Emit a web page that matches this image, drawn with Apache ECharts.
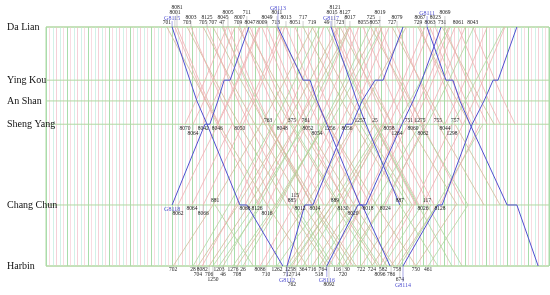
<!DOCTYPE html>
<html>
<head>
<meta charset="utf-8">
<script src="https://cdn.jsdelivr.net/npm/echarts@6/dist/echarts.min.js"></script>
<style>
html, body { margin: 0; padding: 0; background: #fff; }
#chart { width: 550px; height: 295px; }
</style>
</head>
<body>
<div id="chart"></div>
<script>
// stations from top to bottom, distance from Da Lian in km
const stations = ['Da Lian', 'Ying Kou', 'An Shan', 'Sheng Yang', 'Chang Chun', 'Harbin'];
const stationKm = [0, 210, 292, 384, 703, 944];

// times are minutes of the day, one entry per station (null = not served),
// [arrive, depart] where the train stands at a station
const gTrainNo = ['G8115', 'G8118', 'G8113', 'G8117', 'G8112', 'G8116', 'G8114', 'G8111'];
const gTrainTimes = [
    [361, 412, 432, 461, [555, 575], 678],
    [581, [510, 527], 492, [455, 469], 361, null],
    [664, [736, 756], 776, 804, [899, 905], 985],
    [816, 870, 890, 916, 1013, null],
    [1022, [942, 965], 905, [859, 876], [741, 764], 690],
    [1131, 1076, 1051, 1019, [893, 916], 804],
    [1348, [1280, 1294], 1254, 1220, [1122, 1134], 1022],
    [1091, [1145, 1165], 1185, 1214, [1320, 1348], 1409]
];

// trains starting at Da Lian
const dalianNo = ['701', '703', '705', '707', '709', '711', '713', '717', '719', '723', '725', '727', '729', '731',
    '47', '49', '8001', '8081', '8003', '8125', '8045', '8005', '8007', '8047', '8009', '8049', '8011', '8013',
    '8051', '8015', '8121', '8127', '8017', '8055', '8057', '8019', '8079', '8067', '8063', '8023', '8069', '8061', '8043'];
const dalianTimes = [
    [346, 427, 458, 495, 633, 747], [404, 484, 515, 553, 690, 804], [450, 530, 561, 598, 736, 850],
    [478, 558, 590, 627, 764, 879], [550, 630, 661, 699, 836, 950], [575, 656, 687, 724, 862, 976],
    [658, 739, 770, 807, 945, 1059], [736, 816, 847, 885, 1022, null], [762, 842, 873, 910, 1048, null],
    [842, 922, 953, 991, null, null], [930, 1011, 1042, 1079, null, null], [991, 1071, 1102, 1139, null, null],
    [1065, 1145, 1177, 1214, null, null], [1134, 1214, 1245, 1283, null, null],
    [504, 575, 604, 638, 762, 865], [804, 876, 905, 939, 1062, null],
    [369, 432, 458, 490, 610, null], [375, 438, 464, 495, null, null], [415, 478, 504, 535, 656, null],
    [461, 524, 550, 581, 701, null], [507, 570, 596, 627, null, null], [521, 584, 610, 641, 762, null],
    [555, 618, 644, 676, 796, null], [584, 647, 673, 704, null, null], [618, 681, 707, 739, 859, null],
    [633, 696, 721, 753, null, null], [661, 724, 750, 782, 902, null], [687, 750, 776, 807, 928, null],
    [713, 776, 802, 833, null, null], [819, 882, 908, 939, 1059, null], [827, 890, 916, 948, 1068, null],
    [856, 919, 945, 976, 1097, null], [870, 933, 959, 991, 1111, null], [908, 971, 996, 1028, null, null],
    [942, 1005, 1031, 1062, null, null], [956, 1019, 1045, 1076, 1197, null], [1005, 1068, 1094, 1125, null, null],
    [1071, 1134, 1159, 1191, null, null], [1099, 1162, 1188, 1220, null, null], [1114, 1177, 1202, 1234, null, null],
    [1142, 1205, 1231, 1263, null, null], [1180, 1243, 1268, 1300, null, null], [1222, 1285, 1311, 1343, null, null]
];

// trains starting at Harbin
const harbinNo = ['702', '704', '706', '708', '710', '712', '714', '716', '720', '722', '724', '28', '46', '26', '30',
    '1250', '1203', '1276', '1262', '1258', '8082', '8086', '8092', '8096', '762', '364', '518', '764', '116',
    '582', '786', '758', '674', '750', '461'];
const harbinTimes = [
    [764, 684, 653, 616, 478, 364], [836, 756, 724, 687, 550, 435], [867, 787, 756, 719, 581, 467],
    [948, 867, 836, 799, 661, 547], [1031, 950, 919, 882, 744, 630], [null, null, null, 942, 804, 690],
    [null, null, null, 968, 830, 716], [null, null, null, null, 876, 762], [null, null, null, null, 965, 850],
    [null, null, null, null, 1016, 902], [null, null, null, null, 1048, 933],
    [784, 713, 684, 650, 524, 421], [870, 799, 770, 736, 610, 507], [928, 856, 827, 793, 667, 564],
    [1225, 1154, 1125, 1091, 965, 862],
    [null, null, null, 742, 598, 478], [null, null, null, null, 618, 495], [null, null, null, 799, 656, 535],
    [null, null, null, null, 784, 661], [null, null, null, 962, 819, 699],
    [null, null, null, 653, 544, 447], [null, null, null, 819, 710, 613], [null, null, null, 1016, 908, 810],
    [null, null, null, 1162, 1054, 956], [null, null, null, null, 819, 704], [null, null, null, 973, 842, 736],
    [null, null, null, null, 893, 782], [null, null, null, null, 908, 793], [null, null, null, 1071, 939, 833],
    [null, null, null, null, 1076, 965], [null, null, null, null, 1102, 988], [null, null, null, null, 1119, 1005],
    [null, null, null, 1251, 1119, 1013], [null, null, null, null, 1174, 1059], [null, null, null, null, 1208, 1094]
];

// trains starting at Sheng Yang
const shenyangNo = ['763', '375', '761', '1257', '25', '751', '1275', '755', '757',
    '8070', '8064', '8042', '8046', '8050', '8048', '8052', '8054', '8056', '8058', '8060', '8062', '8044',
    '1256', '1264', '1298'];
const shenyangTimes = [
    [null, null, null, 636, 773, 888], [null, null, null, 704, 842, 956], [null, null, null, 744, 882, 996],
    [null, null, null, 899, 1036, null], [null, null, null, 942, 1065, 1162], [null, null, null, 1039, 1177, null],
    [null, null, null, 1071, 1208, null], [null, null, null, 1122, 1254, null], [null, null, null, 1171, 1300, null],
    [518, 455, 429, 398, null, null], [541, 478, 452, 421, null, null], [570, 507, 481, 450, null, null],
    [610, 547, 521, 490, null, null], [676, 613, 587, 555, null, null], [796, 733, 707, 676, null, null],
    [870, 807, 782, 750, null, null], [896, 833, 807, 776, null, null], [982, 919, 893, 862, null, null],
    [1102, 1039, 1013, 982, null, null], [1171, 1108, 1082, 1051, null, null], [1200, 1137, 1111, 1079, null, null],
    [1263, 1200, 1174, 1142, null, null],
    [962, 882, 850, 813, null, null], [1154, 1074, 1042, 1005, null, null], [1311, 1231, 1200, 1162, null, null]
];

// trains starting at Chang Chun
const changchunNo = ['881', '885', '115', '889', '887', '117',
    '8062', '8064', '8066', '8068', '8126', '8016', '8012', '8014', '8130', '8020', '8018', '8024', '8026', '8128'];
const changchunTimes = [
    [null, null, null, null, 484, 593], [null, null, null, null, 704, 813], [null, null, null, null, 713, 822],
    [null, null, null, null, 827, 936], [null, null, null, null, 1013, 1122], [null, null, null, null, 1091, 1191],
    [613, 550, 524, 492, 378, null], [null, null, null, 533, 418, null], [684, 621, 596, 564, 450, null],
    [null, null, null, 684, 570, null], [839, 776, 750, 719, 604, null], [null, null, null, 747, 633, null],
    [962, 899, 873, 842, 727, null], [null, null, null, 885, 770, null], [1085, 1022, 996, 965, 850, null],
    [null, null, null, 993, 879, null], [1157, 1094, 1068, 1036, 922, null], [null, null, null, 1085, 971, null],
    [1314, 1251, 1225, 1194, 1079, null], [null, null, null, 1243, 1128, null]
];

const gridColors = ['#a9dcab', '#f8dce2', '#d2f2e8', '#f5d0d8', '#d2f2e8', '#f8dce2'];
const BLUE = '#5050d0';

function trainColor(no) {
    if (no[0] === 'G') return BLUE;
    if (no.length === 4 && no[0] === '8') return '#eeb0b0';
    if (no.length === 3 && no[0] === '7') return '#cfbb98';
    return '#b0d49c';
}

function first(t) { return Array.isArray(t) ? t[0] : t; }

// build one train: polyline points and its starting station
function buildTrain(no, times) {
    const served = [];
    times.forEach((t, i) => { if (t != null) served.push({ t, i }); });
    const up = first(served[served.length - 1].t) < first(served[0].t);
    const pts = [];
    served.forEach(({ t, i }) => {
        const list = Array.isArray(t) ? (up ? [t[1], t[0]] : t) : [t];
        list.forEach(v => pts.push([v, stationKm[i]]));
    });
    const o = up ? served[served.length - 1] : served[0];
    return { no, up, pts, start: { t: Array.isArray(o.t) ? o.t[1] : o.t, s: o.i } };
}

const trains = [];
[[dalianNo, dalianTimes], [harbinNo, harbinTimes], [shenyangNo, shenyangTimes],
 [changchunNo, changchunTimes], [gTrainNo, gTrainTimes]].forEach(([nos, tms]) => {
    nos.forEach((no, k) => trains.push(buildTrain(no, tms[k])));
});

const chart = echarts.init(document.getElementById('chart'));

const trainSeries = trains.map(tr => ({
    type: 'line',
    name: tr.no,
    data: tr.pts,
    symbol: 'none',
    silent: true,
    animation: false,
    z: tr.no[0] === 'G' ? 5 : 3,
    lineStyle: { color: trainColor(tr.no), width: tr.no[0] === 'G' ? 1 : 0.8 }
}));

const stationSeries = {
    type: 'custom',
    silent: true,
    animation: false,
    z: 2,
    clip: false,
    data: stationKm.map(km => [0, km]),
    renderItem: (params, api) => {
        const km = api.value(1);
        const a = api.coord([0, km]);
        const b = api.coord([1440, km]);
        return {
            type: 'group',
            children: [
                { type: 'line', shape: { x1: a[0], y1: a[1], x2: b[0], y2: b[1] },
                  style: { stroke: '#b2d8a2', lineWidth: 1 } },
                { type: 'text', x: a[0] - 39, y: a[1],
                  style: { text: stations[params.dataIndex], fill: '#111',
                           font: '10px "Liberation Serif", "Times New Roman", serif',
                           align: 'left', verticalAlign: 'middle',
                           textAlign: 'left', textVerticalAlign: 'middle' } }
            ]
        };
    }
};

chart.setOption({
    backgroundColor: '#fff',
    animation: false,
    grid: { left: 46, right: 1, top: 27, bottom: 29, show: true, borderColor: '#b2d8a2', borderWidth: 1 },
    xAxis: {
        type: 'value', min: 0, max: 1440, interval: 10,
        axisLine: { show: false }, axisTick: { show: false }, axisLabel: { show: false },
        splitLine: { show: true, lineStyle: { color: gridColors, width: 1 } }
    },
    yAxis: {
        type: 'value', inverse: true, min: 0, max: 944,
        axisLine: { show: false }, axisTick: { show: false }, axisLabel: { show: false },
        splitLine: { show: false }
    },
    series: [stationSeries].concat(trainSeries)
});

// train number labels, stacked where they would overlap
const CHAR_W = 2.8;
const groups = {};
trains.forEach(tr => {
    const s = tr.start.s;
    let side;
    if (s === 0) side = -1;
    else if (s === 5) side = 1;
    else side = tr.up ? 1 : -1;
    const key = s + '_' + side;
    const px = chart.convertToPixel({ gridIndex: 0 }, [tr.start.t, 0])[0];
    (groups[key] = groups[key] || []).push({ no: tr.no, t: tr.start.t, s, side, px, g: tr.no[0] === 'G' });
});

const labels = [];
Object.keys(groups).forEach(key => {
    const list = groups[key].sort((a, b) => a.px - b.px);
    const lastRight = [];
    list.forEach(L => {
        const w = L.no.length * CHAR_W + (L.g ? 2 : 0);
        const left = L.px - w / 2;
        let lv = 0;
        while (lastRight[lv] != null && lastRight[lv] > left - 0.5) lv++;
        lastRight[lv] = L.px + w / 2;
        L.dy = L.side * (4 + lv * 5);
        labels.push(L);
    });
});

chart.setOption({
    series: [stationSeries].concat(trainSeries).concat([{
        type: 'custom',
        silent: true,
        animation: false,
        clip: false,
        z: 6,
        data: labels.map(L => [L.t, stationKm[L.s]]),
        renderItem: (params, api) => {
            const L = labels[params.dataIndex];
            const p = api.coord([api.value(0), api.value(1)]);
            const y = p[1] + L.dy;
            const children = [];
            if (Math.abs(L.dy) > 5) {
                children.push({ type: 'line',
                    shape: { x1: p[0], y1: p[1], x2: p[0], y2: y - L.side * 3 },
                    style: { stroke: L.g ? BLUE : '#a0a0a0', lineWidth: 0.5 } });
            }
            children.push({ type: 'text', x: p[0], y: y,
                style: { text: L.no, fill: L.g ? BLUE : '#222',
                         font: (L.g ? '6px' : '5.5px') + ' "Liberation Serif", "Times New Roman", serif',
                         align: 'center', verticalAlign: 'middle',
                         textAlign: 'center', textVerticalAlign: 'middle' } });
            return { type: 'group', children };
        }
    }])
});

window.addEventListener('resize', () => chart.resize());
</script>
</body>
</html>
